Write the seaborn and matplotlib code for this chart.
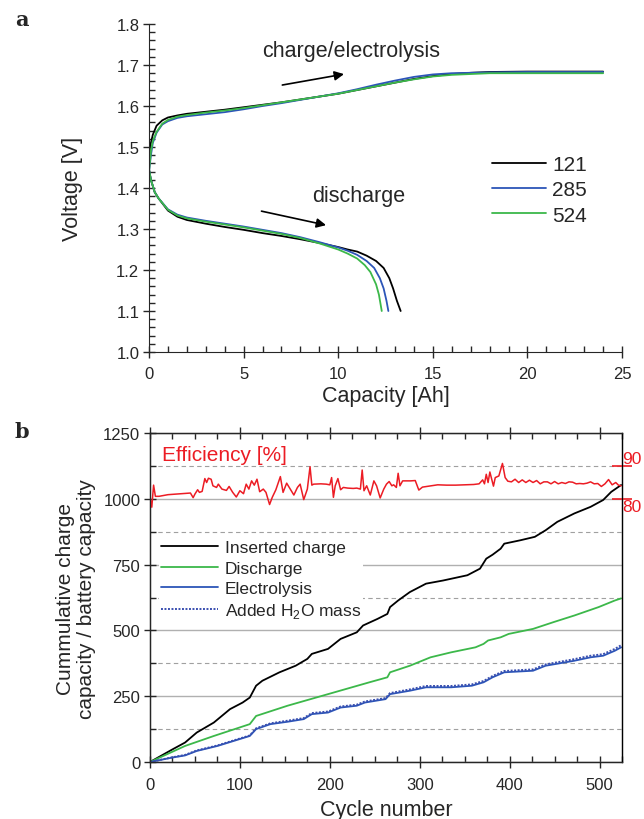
import numpy as np
import pandas as pd
import seaborn as sns
import matplotlib.pyplot as plt
from matplotlib.ticker import MultipleLocator, FormatStrFormatter

# ---- panel a: voltage vs capacity for three cycles ----
cycles_a = ["121", "285", "524"]
colors_a = ["#000000", "#2c55b8", "#3cb84a"]

chg_cap_121 = [0, 0.05, 0.2, 0.4, 0.7, 1.0, 1.5, 2, 3, 4, 5, 6, 7, 8, 9, 10, 11, 12, 13, 14, 15, 16, 17, 18, 20, 22, 24]
chg_v_121 = [1.46, 1.50, 1.53, 1.552, 1.565, 1.572, 1.577, 1.581, 1.586, 1.591, 1.597, 1.603, 1.609, 1.616, 1.623,
             1.630, 1.639, 1.648, 1.657, 1.666, 1.673, 1.678, 1.681, 1.683, 1.684, 1.684, 1.684]
chg_cap_285 = [0, 0.1, 0.2, 0.4, 0.7, 1.0, 1.5, 2, 3, 4, 5, 6, 7, 8, 9, 10, 11, 12, 13, 14, 15, 16, 17, 18, 20, 22, 24]
chg_v_285 = [1.44, 1.48, 1.51, 1.535, 1.555, 1.563, 1.571, 1.575, 1.580, 1.585, 1.592, 1.600, 1.607, 1.615, 1.623,
             1.631, 1.641, 1.652, 1.662, 1.671, 1.677, 1.680, 1.681, 1.682, 1.683, 1.683, 1.683]
chg_cap_524 = [0, 0.1, 0.2, 0.4, 0.7, 1.0, 1.5, 2, 3, 4, 5, 6, 7, 8, 9, 10, 11, 12, 13, 14, 15, 16, 17, 18, 20, 22, 24]
chg_v_524 = [1.44, 1.49, 1.515, 1.537, 1.557, 1.566, 1.574, 1.578, 1.584, 1.589, 1.595, 1.602, 1.609, 1.616, 1.623,
             1.630, 1.639, 1.648, 1.657, 1.665, 1.672, 1.676, 1.678, 1.680, 1.680, 1.680, 1.680]

dis_cap_121 = [0, 0.1, 0.3, 0.5, 1.0, 1.5, 2, 3, 4, 5, 6, 7, 8, 9, 10, 10.5, 11, 11.5, 12, 12.4, 12.7, 12.9, 13.1, 13.3]
dis_v_121 = [1.445, 1.42, 1.39, 1.375, 1.345, 1.33, 1.322, 1.313, 1.305, 1.298, 1.29, 1.283, 1.275, 1.266, 1.256,
             1.25, 1.245, 1.235, 1.222, 1.205, 1.18, 1.155, 1.125, 1.10]
dis_cap_285 = [0, 0.1, 0.3, 0.5, 1.0, 1.5, 2, 3, 4, 5, 6, 7, 8, 9, 10, 10.5, 11, 11.5, 11.9, 12.2, 12.4, 12.55, 12.65]
dis_v_285 = [1.445, 1.42, 1.39, 1.375, 1.348, 1.335, 1.328, 1.32, 1.313, 1.306, 1.298, 1.29, 1.28, 1.268, 1.255,
             1.247, 1.237, 1.222, 1.205, 1.18, 1.155, 1.125, 1.10]
dis_cap_524 = [0, 0, 0.1, 0.3, 0.5, 1.0, 1.5, 2, 3, 4, 5, 6, 7, 8, 9, 10, 10.5, 11, 11.4, 11.7, 12.0, 12.15, 12.3]
dis_v_524 = [1.285, 1.445, 1.42, 1.39, 1.375, 1.347, 1.333, 1.326, 1.318, 1.311, 1.304, 1.296, 1.288, 1.278, 1.265,
             1.25, 1.24, 1.228, 1.212, 1.195, 1.165, 1.14, 1.10]

# ---- panel b: cumulative capacities vs cycle number ----
ins_cyc = [0, 25, 39, 52, 71, 89, 103, 111, 118, 125, 144, 162, 175, 180, 198, 212, 230, 237, 253, 264, 267, 276,
           289, 307, 326, 353, 367, 374, 381, 390, 394, 412, 428, 440, 453, 472, 490, 504, 513, 524]
ins_val = [0, 48, 74, 112, 150, 201, 226, 245, 290, 309, 341, 366, 392, 411, 430, 468, 493, 519, 544, 563, 589, 614,
           646, 678, 690, 710, 735, 773, 788, 811, 830, 843, 856, 881, 913, 945, 970, 996, 1027, 1053]

dis_cyc = [0, 39, 71, 111, 118, 153, 198, 244, 264, 267, 289, 312, 335, 362, 371, 376, 390, 399, 426, 449, 472,
           499, 517, 524]
dis_val = [0, 61, 99, 144, 175, 214, 258, 303, 322, 341, 366, 398, 417, 436, 449, 462, 474, 487, 506, 532, 557,
           589, 614, 622]

ely_cyc = [0, 25, 39, 52, 75, 93, 111, 118, 134, 153, 171, 180, 198, 212, 230, 239, 262, 267, 289, 307, 335, 358,
           371, 381, 394, 426, 440, 472, 490, 504, 517, 524]
ely_val = [0, 17, 25, 42, 61, 80, 99, 125, 144, 153, 163, 182, 188, 207, 214, 226, 239, 258, 271, 284, 284, 290,
           303, 322, 341, 347, 366, 385, 398, 404, 423, 436]
h2o_val = [0, 18, 27, 44, 63, 82, 101, 128, 147, 157, 167, 186, 192, 211, 218, 230, 243, 262, 276, 289, 289, 295,
           308, 327, 346, 352, 371, 391, 404, 410, 430, 444]

eff_cyc = [0, 2, 4, 6, 10, 20, 30, 40, 45, 48, 50, 53, 55, 58, 61, 63, 65, 68, 70, 74, 76, 80, 85, 88, 92, 96, 100,
           104, 107, 110, 113, 116, 119, 122, 126, 129, 133, 136, 140, 145, 148, 152, 156, 160, 164, 167, 171, 175,
           178, 180, 182, 190, 196, 200, 202, 204, 206, 209, 212, 215, 220, 226, 230, 234, 236, 238, 241, 245, 249,
           252, 256, 260, 263, 266, 269, 271, 274, 276, 278, 281, 286, 290, 295, 299, 303, 310, 320, 330, 340, 350,
           360, 366, 370, 372, 374, 376, 378, 380, 382, 384, 388, 392, 395, 398, 402, 406, 410, 414, 418, 422, 426,
           430, 434, 438, 442, 446, 450, 454, 458, 462, 466, 470, 474, 478, 482, 486, 490, 494, 498, 502, 506, 510,
           514, 518, 521, 524]
eff_val = [80.5, 77.5, 84.2, 80.8, 80.8, 81.3, 81.5, 81.7, 81.8, 80.4, 81.5, 82.8, 82.0, 82.3, 86.2, 85.0, 86.3,
           86.0, 84.0, 83.5, 84.5, 83.0, 82.6, 83.8, 82.0, 80.6, 82.5, 81.6, 84.5, 83.0, 85.5, 84.2, 86.0, 82.2,
           83.0, 82.0, 78.3, 80.5, 82.8, 86.8, 82.0, 84.8, 83.0, 81.2, 83.5, 84.5, 79.8, 83.0, 89.8, 84.2, 84.5,
           84.6, 84.5, 84.3, 86.5, 80.5, 84.0, 86.2, 82.8, 83.5, 83.3, 83.2, 83.3, 83.0, 88.8, 82.5, 84.0, 81.2,
           85.5, 84.0, 80.3, 83.0, 84.5, 85.3, 84.0, 84.3, 83.5, 87.8, 84.0, 85.5, 85.5, 85.5, 85.6, 82.7, 83.6,
           83.9, 84.3, 84.2, 84.2, 84.3, 84.4, 84.6, 85.8, 84.6, 87.5, 85.0, 88.2, 86.0, 83.9, 86.5, 87.0, 90.8,
           86.5, 85.4, 85.2, 86.0, 85.0, 85.8, 85.0, 85.7, 85.0, 85.6, 84.6, 85.2, 85.2, 84.6, 85.3, 84.6, 85.0,
           84.7, 85.2, 85.1, 84.6, 84.7, 84.6, 84.8, 85.2, 84.6, 84.7, 83.8, 84.6, 85.9, 84.3, 85.0, 84.2, 84.0]

sns.set_style("ticks")
plt.rcParams["font.family"] = ["Liberation Sans", "DejaVu Sans"]
plt.rcParams["mathtext.fontset"] = "custom"
plt.rcParams["mathtext.rm"] = "Liberation Sans"

fig = plt.figure(figsize=(6.44, 8.2), dpi=100)
ax1 = fig.add_axes([0.2314, 0.5695, 0.7345, 0.40])
ax2 = fig.add_axes([0.2329, 0.0695, 0.733, 0.401])

# panel a
charge = [(chg_cap_121, chg_v_121), (chg_cap_285, chg_v_285), (chg_cap_524, chg_v_524)]
disch = [(dis_cap_121, dis_v_121), (dis_cap_285, dis_v_285), (dis_cap_524, dis_v_524)]
for name, col, (cx, cy), (dx, dy) in zip(cycles_a, colors_a, charge, disch):
    sns.lineplot(x=cx, y=cy, ax=ax1, color=col, lw=1.3, sort=False, estimator=None, label=name)
    sns.lineplot(x=dx, y=dy, ax=ax1, color=col, lw=1.3, sort=False, estimator=None)

ax1.set_xlim(0, 25)
ax1.set_ylim(1.0, 1.8)
ax1.xaxis.set_major_locator(MultipleLocator(5))
ax1.xaxis.set_minor_locator(MultipleLocator(1))
ax1.yaxis.set_major_locator(MultipleLocator(0.1))
ax1.yaxis.set_minor_locator(MultipleLocator(0.02))
ax1.yaxis.set_major_formatter(FormatStrFormatter("%.1f"))
ax1.tick_params(which="major", direction="inout", length=8, width=1, labelsize=12, pad=3)
ax1.tick_params(axis="x", which="major", pad=6)
ax1.tick_params(which="minor", direction="in", length=4, width=1)
sns.despine(ax=ax1)
ax1.set_xlabel("Capacity [Ah]", fontsize=15.5)
ax1.set_ylabel("Voltage [V]", fontsize=15.5)
ax1.xaxis.set_label_coords(0.5, -0.1)
ax1.yaxis.set_label_coords(-0.14, 0.5)

ax1.annotate("", xy=(10.45, 1.679), xytext=(6.9, 1.650),
             arrowprops=dict(arrowstyle="-|>", color="black", lw=1.2, mutation_scale=14))
ax1.text(6.0, 1.735, "charge/electrolysis", fontsize=15.5, va="center")
ax1.annotate("", xy=(9.5, 1.308), xytext=(5.8, 1.345),
             arrowprops=dict(arrowstyle="-|>", color="black", lw=1.2, mutation_scale=14))
ax1.text(8.6, 1.381, "discharge", fontsize=15.5, va="center")

ax1.legend(loc="upper left", bbox_to_anchor=(0.725, 0.60), frameon=False, fontsize=15,
           handlelength=2.6, handletextpad=0.3, labelspacing=0.3, borderpad=0, borderaxespad=0)

# panel b
sns.lineplot(x=ins_cyc, y=ins_val, ax=ax2, color="black", lw=1.3, label="Inserted charge")
sns.lineplot(x=dis_cyc, y=dis_val, ax=ax2, color="#3cb84a", lw=1.3, label="Discharge")
sns.lineplot(x=ely_cyc, y=ely_val, ax=ax2, color="#2c55b8", lw=1.3, label="Electrolysis")
sns.lineplot(x=ely_cyc, y=h2o_val, ax=ax2, color="#3a4fb0", lw=1.4, ls=(0, (1, 0.8)),
             label=r"Added H$_\mathrm{2}$O mass")

ax2.set_xlim(0, 525)
ax2.set_ylim(0, 1250)
ax2.xaxis.set_major_locator(MultipleLocator(100))
ax2.xaxis.set_minor_locator(MultipleLocator(25))
ax2.yaxis.set_major_locator(MultipleLocator(250))
ax2.yaxis.set_minor_locator(MultipleLocator(125))
ax2.tick_params(which="major", direction="inout", length=8, width=1, labelsize=12, pad=3, top=True)
ax2.tick_params(axis="x", which="major", pad=7)
ax2.tick_params(which="minor", direction="in", length=4, width=1, top=True)
ax2.grid(which="major", axis="y", color="#b0b0b0", lw=1, ls="-")
ax2.grid(which="minor", axis="y", color="#a0a0a0", lw=0.8, ls=(0, (4, 3)))
ax2.set_axisbelow(True)
for s in ax2.spines.values():
    s.set_linewidth(1)
ax2.set_xlabel("Cycle number", fontsize=15.5)
ax2.set_ylabel("Cummulative charge\ncapacity / battery capacity", fontsize=15, linespacing=1.1)
ax2.xaxis.set_label_coords(0.5, -0.112)
ax2.yaxis.set_label_coords(-0.115, 0.5)

leg = ax2.legend(loc="upper left", bbox_to_anchor=(0.02, 0.68), frameon=True, fontsize=12.5,
                 handlelength=3.3, handletextpad=0.35, labelspacing=0.3, borderpad=0.1, borderaxespad=0)
leg.get_frame().set_facecolor("white")
leg.get_frame().set_edgecolor("none")
leg.get_frame().set_alpha(1)
leg.set_zorder(1.5)

ax3 = ax2.twinx()
sns.lineplot(x=eff_cyc, y=eff_val, ax=ax3, color="#ec1c24", lw=1.1)
ax3.set_ylim(0, 100)
ax3.set_yticks([80, 90])
ax3.tick_params(axis="y", colors="#ec1c24", direction="inout", length=14, width=1.2, labelsize=12.5, pad=-7)
ax3.spines["right"].set_color("black")
ax3.set_ylabel("")
labs = ax3.get_yticklabels()
labs[0].set_va("top")
labs[1].set_va("bottom")
ax3.grid(False)
ax3.text(0.025, 0.935, "Efficiency [%]", transform=ax3.transAxes, color="#ec1c24", fontsize=15,
         va="center")

fig.text(0.023, 0.975, "a", fontsize=15, fontweight="bold", family="DejaVu Serif", va="center")
fig.text(0.023, 0.473, "b", fontsize=15, fontweight="bold", family="DejaVu Serif", va="center")

fig.savefig("out.png", dpi=100)
